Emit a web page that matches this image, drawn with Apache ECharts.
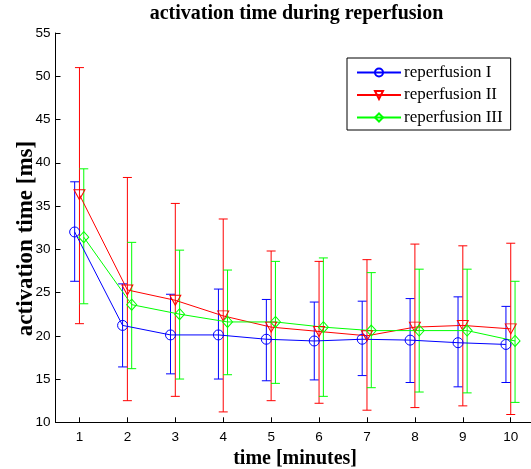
<!DOCTYPE html>
<html>
<head>
<meta charset="utf-8">
<script src="https://cdn.jsdelivr.net/npm/echarts@6/dist/echarts.min.js"></script>
<style>html,body{margin:0;padding:0;background:#fff;}#c{width:531px;height:469px;}</style>
</head>
<body>
<div id="c"></div>
<script>
const minutes = [1, 2, 3, 4, 5, 6, 7, 8, 9, 10];
const yTicks = [10, 15, 20, 25, 30, 35, 40, 45, 50, 55];
const seriesNames = ['reperfusion I', 'reperfusion II', 'reperfusion III'];

const meanI   = [32.0, 21.2, 20.1, 20.1, 19.6, 19.4, 19.6, 19.5, 19.2, 19.0];
const upperI  = [37.8, 26.0, 24.8, 25.4, 24.2, 23.9, 24.0, 24.3, 24.5, 23.4];
const lowerI  = [26.3, 16.4, 15.6, 15.0, 14.8, 14.9, 15.4, 14.6, 14.1, 14.6];

const meanII  = [36.3, 25.3, 24.1, 22.3, 21.0, 20.5, 20.0, 21.0, 21.2, 20.8];
const upperII = [51.0, 38.3, 35.3, 33.5, 29.8, 28.6, 28.8, 30.6, 30.4, 30.7];
const lowerII = [21.4, 12.5, 13.0, 11.2, 12.5, 12.2, 11.4, 11.7, 11.9, 10.9];

const meanIII  = [31.4, 23.6, 22.5, 21.6, 21.6, 21.0, 20.6, 20.6, 20.6, 19.4];
const upperIII = [39.3, 30.8, 29.9, 27.6, 28.6, 29.0, 27.3, 27.7, 27.7, 26.3];
const lowerIII = [23.7, 16.2, 15.0, 15.5, 14.5, 13.0, 14.0, 13.5, 13.4, 12.3];

const colors = ['#0000ff', '#ff0000', '#00ff00'];
const offsets = [-0.1, 0, 0.09];
const symbols = ['circle', 'triangle', 'diamond'];
const symbolSizes = [10, [11, 10], [10, 11]];
const symbolRotates = [0, 180, 0];
const means = [meanI, meanII, meanIII];
const uppers = [upperI, upperII, upperIII];
const lowers = [lowerI, lowerII, lowerIII];

const serif = '"Liberation Serif", "DejaVu Serif", serif';
const sans = '"Liberation Sans", Arial, sans-serif';

const series = [];
seriesNames.forEach((name, s) => {
  series.push({
    name: name,
    type: 'line',
    data: minutes.map((m, i) => [m + offsets[s], means[s][i]]),
    symbol: symbols[s],
    symbolSize: symbolSizes[s],
    symbolRotate: symbolRotates[s],
    showAllSymbol: true,
    color: colors[s],
    lineStyle: { color: colors[s], width: 1 },
    itemStyle: { color: 'rgba(255,255,255,0)', borderColor: colors[s], borderWidth: 1 },
    z: 3,
    animation: false
  });
  series.push({
    name: name,
    type: 'custom',
    data: minutes.map((m, i) => [m + offsets[s], lowers[s][i], uppers[s][i]]),
    renderItem: function (params, api) {
      const x = api.value(0);
      const lo = api.coord([x, api.value(1)]);
      const hi = api.coord([x, api.value(2)]);
      const w = 4.5;
      const st = { stroke: colors[s], lineWidth: 1 };
      return {
        type: 'group',
        children: [
          { type: 'line', shape: { x1: lo[0], y1: lo[1], x2: hi[0], y2: hi[1] }, style: st },
          { type: 'line', shape: { x1: lo[0] - w, y1: lo[1], x2: lo[0] + w, y2: lo[1] }, style: st },
          { type: 'line', shape: { x1: hi[0] - w, y1: hi[1], x2: hi[0] + w, y2: hi[1] }, style: st }
        ]
      };
    },
    z: 2,
    silent: true,
    animation: false
  });
});

const chart = echarts.init(document.getElementById('c'));
chart.setOption({
  backgroundColor: '#ffffff',
  animation: false,
  title: {
    text: 'activation time during reperfusion',
    left: 291.5,
    textAlign: 'center',
    top: -1,
    textStyle: { fontFamily: serif, fontWeight: 'bold', fontSize: 20, color: '#000' }
  },
  graphic: [{
    type: 'text',
    x: 26,
    y: 238.5,
    rotation: Math.PI / 2,
    style: {
      text: 'activation time [ms]',
      fontFamily: serif,
      fontWeight: 'bold',
      fontSize: 23,
      fill: '#000',
      align: 'center',
      verticalAlign: 'middle'
    }
  }],
  legend: {
    data: seriesNames,
    orient: 'vertical',
    left: 347,
    top: 58,
    width: 165,
    padding: [6, 8, 4, 9],
    itemWidth: 44,
    itemHeight: 10,
    itemGap: 5.5,
    borderColor: '#000',
    borderWidth: 1,
    backgroundColor: '#fff',
    textStyle: { fontFamily: serif, fontSize: 17, lineHeight: 17, color: '#000', padding: [0, 0, 0, -2] }
  },
  grid: { left: 55.5, top: 33, right: -3.7, bottom: 46.7, outerBoundsMode: 'none', containLabel: false },
  xAxis: {
    type: 'value',
    min: 0.5,
    max: 10.5,
    name: 'time [minutes]',
    nameLocation: 'middle',
    nameGap: 27,
    nameTextStyle: { fontFamily: serif, fontWeight: 'bold', fontSize: 20, color: '#000' },
    axisLine: { show: true, lineStyle: { color: '#000', width: 1 } },
    axisTick: { show: true, inside: true, length: 5, customValues: minutes, lineStyle: { color: '#000' } },
    axisLabel: { customValues: minutes, fontFamily: sans, fontSize: 13.5, color: '#000', margin: 8 },
    splitLine: { show: false }
  },
  yAxis: {
    type: 'value',
    min: 10,
    max: 55,
    interval: 5,
    axisLine: { show: true, lineStyle: { color: '#000', width: 1 } },
    axisTick: { show: true, inside: true, length: 5, lineStyle: { color: '#000' } },
    axisLabel: { customValues: yTicks, fontFamily: sans, fontSize: 13.5, color: '#000', margin: 5 },
    splitLine: { show: false }
  },
  series: series
});
</script>
</body>
</html>
